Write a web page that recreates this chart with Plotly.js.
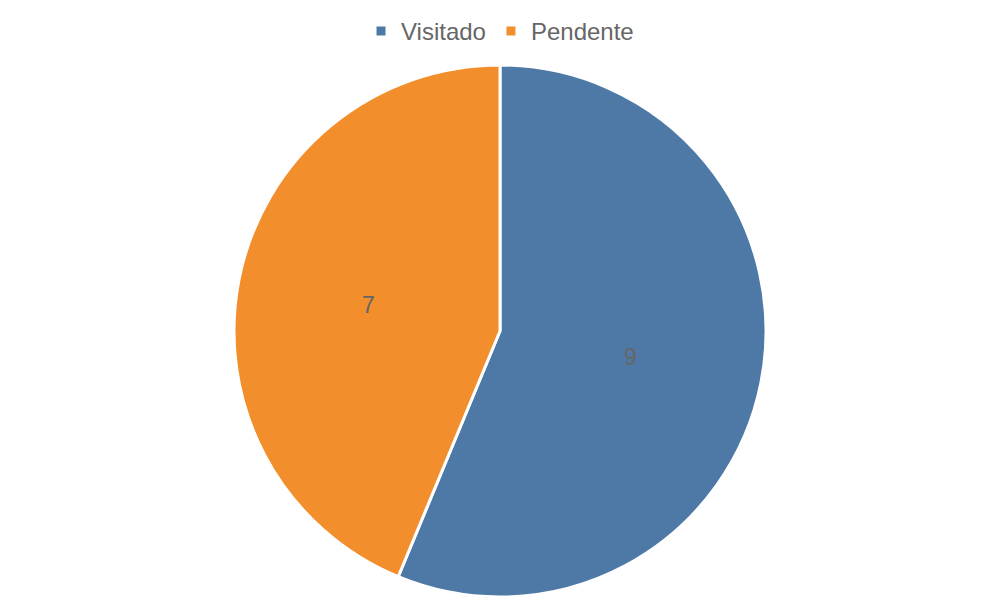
<!DOCTYPE html>
<html>
<head>
<meta charset="utf-8">
<script src="https://cdn.plot.ly/plotly-3.0.1.min.js"></script>
<style>html,body{margin:0;padding:0;background:#fff;}#chart{width:1000px;height:600px;}</style>
</head>
<body>
<div id="chart"></div>
<script>
const categories = ["Visitado", "Pendente"];
const values = [9, 7];
const colors = ["#4e79a7", "#f28e2b"];

const trace = {
  type: "pie",
  labels: categories,
  values: values,
  sort: false,
  direction: "clockwise",
  rotation: 0,
  marker: { colors: colors, line: { color: "#ffffff", width: 3 } },
  textinfo: "value",
  textposition: "inside",
  insidetextorientation: "horizontal",
  textfont: { family: "Liberation Sans, Arial, sans-serif", size: 23, color: "#666666" },
  hoverinfo: "label+value",
  domain: { x: [0, 1], y: [0.005, 0.8917] }
};

const layout = {
  width: 1000,
  height: 600,
  margin: { l: 0, r: 0, t: 0, b: 0 },
  paper_bgcolor: "#ffffff",
  showlegend: true,
  legend: {
    orientation: "h",
    x: 0.5, xanchor: "center",
    y: 0.985, yanchor: "top",
    font: { family: "Liberation Sans, Arial, sans-serif", size: 24, color: "#666666" },
    itemwidth: 30,
    traceorder: "normal"
  },
  font: { family: "Liberation Sans, Arial, sans-serif", color: "#666666" }
};

Plotly.newPlot("chart", [trace], layout, { displayModeBar: false, staticPlot: true });
</script>
</body>
</html>
